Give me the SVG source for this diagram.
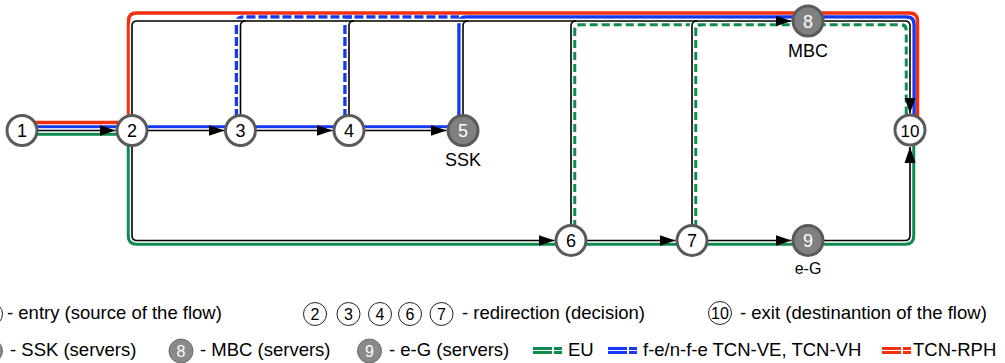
<svg xmlns="http://www.w3.org/2000/svg" width="1005" height="363" viewBox="0 0 1005 363">
<style>
  text { font-family: "Liberation Sans", Arial, Helvetica, sans-serif; }
  .node { fill: #ffffff; stroke: #5a5a5a; stroke-width: 3; }
  .srv { fill: #808080; stroke: #5a5a5a; stroke-width: 3; }
  .nt { font-size: 18px; fill: #000; text-anchor: middle; }
  .st { font-size: 18px; fill: #fff; text-anchor: middle; }
  .lbl { font-size: 18px; fill: #000; text-anchor: middle; }
  .lg { font-size: 18.5px; fill: #000; }
  .lc { fill: #fff; stroke: #222; stroke-width: 1; }
  .lct { font-size: 16px; fill: #000; text-anchor: middle; }
  .lgs { fill: #8a8a8a; stroke: #6a6a6a; stroke-width: 1; }
  .lgst { font-size: 16px; fill: #fff; text-anchor: middle; }
  .red { fill: none; stroke: #f5300f; stroke-width: 3.5; }
  .blue { fill: none; stroke: #1538f5; stroke-width: 3.5; }
  .blued { fill: none; stroke: #1538f5; stroke-width: 3.5; stroke-dasharray: 9 3; }
  .green { fill: none; stroke: #0e8c4e; stroke-width: 3.5; }
  .greend { fill: none; stroke: #0e8c4e; stroke-width: 3.5; stroke-dasharray: 8 4; }
  .halo { fill: none; stroke: #ffffff; stroke-width: 4.5; }
  .edge { fill: none; stroke: #000; stroke-width: 1.6; }
  .arr { marker-end: url(#ah); }
</style>
<defs>
  <marker id="ah" markerUnits="userSpaceOnUse" markerWidth="17" markerHeight="12" refX="16" refY="6" orient="auto">
    <path d="M0,0.5 L16,6 L0,11.5 z" fill="#000"/>
  </marker>
</defs>

<g id="connectors">
  <!-- coloured flow bundles -->
  <path class="red" d="M22 122.5 H128.5 V21 Q128.5 13 136.5 13 H909.5 Q917.5 13 917.5 21 V126"/>
  <path class="blue" d="M22 127 H463"/>
  <path class="blued" d="M236.5 130 V24 Q236.5 17 243.5 17 H459"/>
  <path class="blued" d="M345 130 V24 Q345 17 352 17"/>
  <path class="blue" d="M459 130 V24 Q459 17 466 17 H907 Q914 17 914 24 V126"/>
  <path class="green" d="M22 134 H128.5 V236 Q128.5 244 136.5 244 H905.5 Q913.5 244 913.5 236 V135"/>
  <path class="greend" d="M574.5 240 V31 Q574.5 24.5 581 24.5 H900 Q906.5 24.5 906.5 31 V126"/>
  <path class="greend" d="M695.5 240 V31 Q695.5 24.5 702 24.5"/>

  <!-- halos -->
  <path class="halo" d="M22 130.5 H132"/>
  <path class="halo" d="M132 130.5 H463"/>
  <path class="halo" d="M132 130.5 V26 Q132 21 137 21 H808"/>
  <path class="halo" d="M240.5 130.5 V26 Q240.5 21 245.5 21"/>
  <path class="halo" d="M349 130.5 V26 Q349 21 354 21"/>
  <path class="halo" d="M463 130.5 V26 Q463 21 468 21"/>
  <path class="halo" d="M571 240.5 V26 Q571 21 576 21"/>
  <path class="halo" d="M692 240.5 V26 Q692 21 697 21"/>
  <path class="halo" d="M808 21 H905 Q910 21 910 26 V130"/>
  <path class="halo" d="M132 130.5 V235.5 Q132 240.5 137 240.5 H808"/>
  <path class="halo" d="M808 240.5 H905 Q910 240.5 910 235.5 V130"/>

  <!-- black connectors -->
  <path class="edge arr" d="M22 130.5 H115.5"/>
  <path class="edge arr" d="M132 130.5 H224.5"/>
  <path class="edge arr" d="M240.5 130.5 H332.5"/>
  <path class="edge arr" d="M349 130.5 H446.5"/>
  <path class="edge arr" d="M132 130.5 V26 Q132 21 137 21 H791.5"/>
  <path class="edge" d="M240.5 130.5 V26 Q240.5 21 245.5 21"/>
  <path class="edge" d="M349 130.5 V26 Q349 21 354 21"/>
  <path class="edge" d="M463 130.5 V26 Q463 21 468 21"/>
  <path class="edge" d="M571 240.5 V26 Q571 21 576 21"/>
  <path class="edge" d="M692 240.5 V26 Q692 21 697 21"/>
  <path class="edge arr" d="M808 21 H905 Q910 21 910 26 V113.5"/>
  <path class="edge arr" d="M132 130.5 V235.5 Q132 240.5 137 240.5 H554.5"/>
  <path class="edge arr" d="M571 240.5 H675.5"/>
  <path class="edge arr" d="M692 240.5 H791.5"/>
  <path class="edge arr" d="M808 240.5 H905 Q910 240.5 910 235.5 V147"/>
</g>

<g id="n1"><circle class="node" cx="22" cy="130.5" r="15"/><text class="nt" x="22" y="137">1</text></g>
<g id="n2"><circle class="node" cx="132" cy="130.5" r="15"/><text class="nt" x="132" y="137">2</text></g>
<g id="n3"><circle class="node" cx="240.5" cy="130.5" r="15"/><text class="nt" x="240.5" y="137">3</text></g>
<g id="n4"><circle class="node" cx="349" cy="130.5" r="15"/><text class="nt" x="349" y="137">4</text></g>
<g id="n5"><circle class="srv" cx="463" cy="130.5" r="15"/><text class="st" x="463" y="137">5</text><text class="lbl" x="463" y="166">SSK</text></g>
<g id="n6"><circle class="node" cx="571" cy="240.5" r="15"/><text class="nt" x="571" y="247">6</text></g>
<g id="n7"><circle class="node" cx="692" cy="240.5" r="15"/><text class="nt" x="692" y="247">7</text></g>
<g id="n8"><circle class="srv" cx="808" cy="21" r="15"/><text class="st" x="808" y="27.5">8</text><text class="lbl" x="808" y="57">MBC</text></g>
<g id="n9"><circle class="srv" cx="808" cy="240.5" r="15"/><text class="st" x="808" y="247">9</text><text class="lbl" x="808" y="274" style="font-size:16px">e-G</text></g>
<g id="n10"><circle class="node" cx="910" cy="130" r="15"/><text class="nt" x="910" y="136.5" style="font-size:17px">10</text></g>

<g id="legend">
  <circle class="lc" cx="-9" cy="314" r="11.5"/>
  <text class="lg" x="7" y="319">- entry (source of the flow)</text>
  <circle class="lc" cx="315" cy="314" r="11.5"/><text class="lct" x="315" y="319.5">2</text>
  <circle class="lc" cx="348.5" cy="314" r="11.5"/><text class="lct" x="348.5" y="319.5">3</text>
  <circle class="lc" cx="380" cy="314" r="11.5"/><text class="lct" x="380" y="319.5">4</text>
  <circle class="lc" cx="410" cy="314" r="11.5"/><text class="lct" x="410" y="319.5">6</text>
  <circle class="lc" cx="441.5" cy="314" r="11.5"/><text class="lct" x="441.5" y="319.5">7</text>
  <text class="lg" x="462" y="319">- redirection (decision)</text>
  <circle class="lc" cx="720" cy="313" r="11.5"/><text class="lct" x="720" y="318.5">10</text>
  <text class="lg" x="740" y="319">- exit (destinantion of the flow)</text>

  <circle class="lgs" cx="-9.5" cy="351" r="12"/>
  <text class="lg" x="10" y="356">- SSK (servers)</text>
  <circle class="lgs" cx="181" cy="351" r="12"/><text class="lgst" x="181" y="356.5">8</text>
  <text class="lg" x="200" y="356">- MBC (servers)</text>
  <circle class="lgs" cx="369.5" cy="351" r="12"/><text class="lgst" x="369.5" y="356.5">9</text>
  <text class="lg" x="389" y="356">- e-G (servers)</text>

  <g stroke-dasharray="19 2 9" stroke-width="3" fill="none">
    <path d="M533 348.5 H562 M533 352.5 H562" stroke="#0e8c4e"/>
    <path d="M608 348.5 H637 M608 352.5 H637" stroke="#1538f5"/>
    <path d="M882 348.5 H911 M882 352.5 H911" stroke="#f5300f"/>
  </g>
  <text class="lg" x="568" y="356">EU</text>
  <text class="lg" x="643" y="356">f-e/n-f-e TCN-VE, TCN-VH</text>
  <text class="lg" x="913" y="356">TCN-RPH</text>
</g>
</svg>
